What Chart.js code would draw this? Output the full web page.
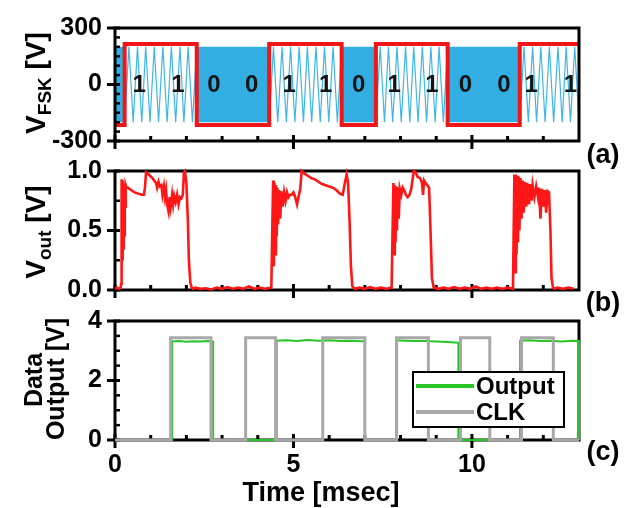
<!DOCTYPE html>
<html><head><meta charset="utf-8">
<script src="https://cdn.jsdelivr.net/npm/chart.js@4.4.1/dist/chart.umd.min.js"></script>
<style>
html,body{margin:0;padding:0;background:#fff;}
#wrap{position:relative;width:626px;height:508px;overflow:hidden;}
#wrap canvas{position:absolute;left:0;top:0;}
</style></head><body>
<div id="wrap">
<canvas id="ca" width="626" height="508"></canvas>
<canvas id="cb" width="626" height="508"></canvas>
<canvas id="cc" width="626" height="508"></canvas>
</div>
<script>
// ---------- data ----------
const xMajorTicks = [0, 5, 10];
const xMinorTicks = [1, 2, 3, 4, 6, 7, 8, 9, 11, 12];

// (a) FSK signal
const yTicksA = [-300, 0, 300];
const yMinorA = [-250, -200, -150, -100, -50, 50, 100, 150, 200, 250];
const bitEdgeT = [0, 0.27, 2.29, 4.32, 6.35, 7.31, 9.32, 11.34, 13];
const bitLevelV = [-215, 215, -215, 215, -215, 215, -215, 215, 215];
const bitLabels = ['1','1','0','0','1','1','0','1','1','0','0','1','1'];
const bitLabelT = [0.68, 1.76, 2.77, 3.83, 4.88, 5.90, 6.83, 7.82, 8.88, 9.82, 10.90, 11.66, 12.76];
const zeroStartT = [0, 2.29, 6.35, 9.32];
const zeroEndT = [0.27, 4.32, 7.31, 11.34];
const carrierAmp = [200, -200];
const fskLineT = [
  0.27,0.39,0.51,0.63,0.75,0.86,0.98,1.10,1.22,1.34,1.46,1.58,1.70,1.82,1.93,2.05,2.17,2.29, 3.3,
  4.32,4.44,4.56,4.68,4.80,4.92,5.04,5.16,5.28,5.39,5.51,5.63,5.75,5.87,5.99,6.11,6.23,6.35, 6.8,
  7.31,7.43,7.55,7.66,7.78,7.90,8.02,8.14,8.26,8.37,8.49,8.61,8.73,8.85,8.97,9.08,9.20,9.32, 10.3,
  11.34,11.46,11.58,11.70,11.81,11.93,12.05,12.17,12.29,12.41,12.53,12.64,12.76,12.88,13.00
];
const fskLineV = [
  -200,200,-200,200,-200,200,-200,200,-200,200,-200,200,-200,200,-200,200,-200,200, null,
  -200,200,-200,200,-200,200,-200,200,-200,200,-200,200,-200,200,-200,200,-200,200, null,
  -200,200,-200,200,-200,200,-200,200,-200,200,-200,200,-200,200,-200,200,-200,200, null,
  -200,200,-200,200,-200,200,-200,200,-200,200,-200,200,-200,200,-200
];

// (b) Vout
const yTicksB = [0, 0.5, 1.0];
const yMinorB = [0.25, 0.75];
const voutT = [
  0.00,0.06,0.12,0.16,
  0.17,0.18,0.19,0.20,0.21,0.22,0.23,0.24,0.25,0.26,0.27,0.28,0.29,0.30,0.32,0.36,0.45,0.55,0.65,0.75,0.81,
  0.84,0.87,0.92,0.98,1.05,1.12,1.15,1.18,1.22,1.26,1.30,1.33,1.37,1.40,1.43,1.46,1.50,1.53,1.56,1.60,1.63,1.66,1.70,1.74,1.78,1.82,1.86,1.90,1.93,1.96,2.00,2.04,2.07,2.11,2.15,2.19,
  2.25,2.40,2.55,2.70,2.85,3.00,3.15,3.30,3.45,3.60,3.75,3.90,4.05,4.20,4.38,
  4.43,4.45,4.47,4.49,4.51,4.53,4.55,4.57,4.60,4.63,4.66,4.70,4.74,4.78,4.82,4.86,4.90,4.95,5.00,5.05,5.10,5.14,5.19,5.23,5.30,5.40,5.50,5.60,5.70,5.80,5.90,6.00,6.10,6.20,6.30,6.38,6.44,6.49,6.53,6.57,6.61,6.65,
  6.72,6.85,7.00,7.15,7.30,7.45,7.60,7.75,
  7.80,7.82,7.84,7.86,7.88,7.90,7.92,7.95,7.98,8.02,8.06,8.10,8.15,8.20,8.25,8.30,8.37,8.42,8.48,8.55,8.60,8.63,8.66,8.70,8.75,8.80,8.84,8.88,8.93,
  9.05,9.20,9.35,9.50,9.65,9.80,9.95,10.10,10.25,10.40,10.55,10.70,10.85,11.00,11.15,
  11.19,11.21,11.23,11.25,11.27,11.29,11.31,11.33,11.36,11.39,11.42,11.45,11.48,11.52,11.55,11.60,11.63,11.67,11.70,11.75,11.80,11.85,11.88,11.92,11.96,12.00,12.04,12.08,12.12,12.16,12.20,12.23,12.27,12.31,
  12.40,12.55,12.70,12.85,13.00
];
const voutV = [
  0.01,0.02,0.01,0.02,
  0.05,0.93,0.10,0.90,0.25,0.92,0.35,0.88,0.50,0.90,0.45,0.87,0.70,0.88,0.86,0.86,0.84,0.82,0.81,0.80,0.80,
  0.86,0.99,0.98,0.96,0.94,0.91,0.90,0.86,0.91,0.87,0.88,0.80,0.87,0.78,0.84,0.72,0.66,0.78,0.70,0.80,0.72,0.79,0.74,0.80,0.72,0.78,0.77,0.80,0.99,1.00,0.90,0.60,0.25,0.06,0.02,0.01,
  0.02,0.01,0.015,0.005,0.02,0.01,0.025,0.01,0.02,0.01,0.03,0.01,0.02,0.01,0.02,
  0.92,0.20,0.90,0.30,0.88,0.45,0.86,0.55,0.84,0.60,0.83,0.70,0.82,0.75,0.82,0.78,0.80,0.80,0.82,0.78,0.72,0.78,0.85,1.00,0.98,0.96,0.94,0.93,0.91,0.89,0.88,0.87,0.86,0.84,0.81,0.80,0.90,0.97,0.90,0.60,0.20,0.03,
  0.01,0.02,0.01,0.025,0.01,0.02,0.01,0.02,
  0.90,0.30,0.88,0.40,0.87,0.50,0.86,0.60,0.85,0.80,0.86,0.84,0.80,0.78,0.80,0.85,1.00,0.99,0.95,0.94,0.90,0.80,0.92,0.90,0.88,0.86,0.50,0.10,0.02,
  0.01,0.02,0.01,0.025,0.01,0.02,0.01,0.03,0.01,0.02,0.01,0.02,0.01,0.02,0.01,
  0.97,0.15,0.97,0.30,0.96,0.40,0.95,0.50,0.94,0.60,0.92,0.65,0.91,0.70,0.90,0.72,0.89,0.75,0.88,0.78,0.87,0.78,0.86,0.60,0.85,0.70,0.84,0.65,0.83,0.82,0.50,0.10,0.02,
  0.01,0.02,0.01,0.02,0.01
];

// (c) Data output and clock
const yTicksC = [0, 2, 4];
const yMinorC = [0.5, 1, 1.5, 2.5, 3, 3.5];
const outT = [0,1.60,1.60,1.80,2.00,2.20,2.40,2.60,2.75,2.75,4.53,4.53,4.80,5.10,5.40,5.70,6.00,6.30,6.60,6.90,7.00,7.00,7.88,7.88,8.10,8.40,8.70,9.00,9.30,9.62,9.62,11.35,11.35,11.60,11.90,12.20,12.50,12.80,13.00,13.00];
const outV = [0,0,3.31,3.33,3.30,3.32,3.31,3.33,3.31,0,0,3.34,3.35,3.33,3.36,3.34,3.35,3.33,3.34,3.32,3.33,0,0,3.35,3.34,3.33,3.33,3.31,3.29,3.27,0,0,3.34,3.35,3.33,3.34,3.31,3.34,3.33,0];
const clkT = [0,1.56,1.56,2.69,2.69,3.66,3.66,4.50,4.50,5.82,5.82,7.00,7.00,7.89,7.89,8.78,8.78,9.68,9.68,10.50,10.50,11.39,11.39,12.28,12.28,13];
const clkV = [0,0,3.44,3.44,0,0,3.44,3.44,0,0,3.44,3.44,0,0,3.44,3.44,0,0,3.44,3.44,0,0,3.44,3.44,0,0];

// ---------- helpers ----------
const FONT = '"Liberation Sans", Arial, Helvetica, sans-serif';
const pts = (xs, ys) => xs.map((x, i) => ({x, y: ys[i]}));

const framePlugin = {
  id: 'frame',
  draw(chart, o) {
    const {ctx, chartArea: a, scales: {x, y}} = chart;
    ctx.save();
    ctx.strokeStyle = '#000';
    ctx.lineCap = 'butt';
    ctx.lineWidth = 3;
    ctx.strokeRect(a.left, a.top, a.right - a.left, a.bottom - a.top);
    const seg = (x1, y1, x2, y2, w) => { ctx.lineWidth = w; ctx.beginPath(); ctx.moveTo(x1, y1); ctx.lineTo(x2, y2); ctx.stroke(); };
    o.yMajor.forEach(v => { const p = y.getPixelForValue(v); seg(a.left - 8, p, a.left + 5, p, 3); });
    o.yMinor.forEach(v => { const p = y.getPixelForValue(v); seg(a.left, p, a.left + 5, p, 2.5); });
    xMajorTicks.forEach(v => { const p = x.getPixelForValue(v); seg(p, a.bottom + 8, p, a.bottom - 6, 3); });
    xMinorTicks.forEach(v => { const p = x.getPixelForValue(v); seg(p, a.bottom, p, a.bottom - 5, 3); });
    ctx.restore();
  },
  beforeDatasetsDraw(chart, args, o) { if (!o.after) this.draw(chart, o); },
  afterDatasetsDraw(chart, args, o) { if (o.after) this.draw(chart, o); }
};

function rotText(ctx, x, y, parts) {
  ctx.save();
  ctx.translate(x, y);
  ctx.rotate(-Math.PI / 2);
  ctx.textBaseline = 'alphabetic';
  ctx.textAlign = 'left';
  let total = 0;
  parts.forEach(p => { ctx.font = p.font; total += ctx.measureText(p.text).width; });
  let cx = -total / 2;
  parts.forEach(p => { ctx.font = p.font; ctx.fillText(p.text, cx, p.dy || 0); cx += ctx.measureText(p.text).width; });
  ctx.restore();
}

const textPlugin = {
  id: 'texts',
  afterDraw(chart, args, o) {
    const ctx = chart.ctx;
    ctx.save();
    ctx.fillStyle = '#000';
    if (o.draw) o.draw(ctx, chart);
    ctx.restore();
  }
};

const TICKFONT = {family: FONT, size: 25, weight: 'bold'};

function opts(padding, yMin, yMax, yTicks, yFmt, showX, xH, frameOpts, drawFn) {
  return {
    responsive: false, animation: false, events: [],
    layout: {padding},
    plugins: {legend: {display: false}, tooltip: {enabled: false},
      frame: frameOpts, texts: {draw: drawFn}},
    elements: {point: {radius: 0}, line: {tension: 0}},
    scales: {
      x: {type: 'linear', min: 0, max: 13,
        grid: {display: false, drawTicks: false}, border: {display: false},
        afterBuildTicks: s => { s.ticks = xMajorTicks.map(v => ({value: v})); },
        ticks: {display: showX, padding: 10, color: '#000', maxRotation: 0, autoSkip: false, font: TICKFONT},
        afterFit: s => { s.height = xH; }},
      y: {type: 'linear', min: yMin, max: yMax,
        grid: {display: false, drawTicks: false}, border: {display: false},
        afterBuildTicks: s => { s.ticks = yTicks.map(v => ({value: v})); },
        ticks: {padding: 13, color: '#000', font: TICKFONT, callback: yFmt},
        afterFit: s => { s.width = 105; }}
    }
  };
}

// ---------- (a) ----------
const dsA = [
  {data: pts(bitEdgeT, bitLevelV), stepped: 'before', borderColor: 'rgb(238,22,22)', borderWidth: 4, fill: false, clip: 4},
  {data: pts(fskLineT, fskLineV), borderColor: 'rgb(62,182,232)', borderWidth: 1.2, fill: false, spanGaps: false}
];
zeroStartT.forEach((s, i) => {
  dsA.push({data: [{x: s, y: carrierAmp[0]}, {x: zeroEndT[i], y: carrierAmp[0]}],
    borderWidth: 0, borderColor: 'rgba(0,0,0,0)', backgroundColor: 'rgb(50,174,227)', fill: {value: carrierAmp[1]}});
});
new Chart(document.getElementById('ca'), {
  type: 'line',
  data: {datasets: dsA},
  options: opts({left: 10, right: 47, top: 20, bottom: 508 - 141 - 10}, -300, 300, yTicksA, v => String(v), false, 10,
    {yMajor: yTicksA, yMinor: yMinorA, after: true},
    (ctx, chart) => {
      const {x, y} = chart.scales;
      ctx.font = 'bold 24px ' + FONT;
      ctx.textAlign = 'center'; ctx.textBaseline = 'middle';
      ctx.fillStyle = '#141414';
      bitLabels.forEach((b, i) => ctx.fillText(b, x.getPixelForValue(bitLabelT[i]), y.getPixelForValue(0) + 1));
      ctx.fillStyle = '#000';
      rotText(ctx, 45, 83, [
        {text: 'V', font: 'bold 28px ' + FONT},
        {text: 'FSK', font: 'bold 19px ' + FONT, dy: 6},
        {text: ' [V]', font: 'bold 28px ' + FONT}]);
      ctx.font = 'bold 27px ' + FONT; ctx.textAlign = 'center'; ctx.textBaseline = 'middle';
      ctx.fillText('(a)', 603, 156);
    }),
  plugins: [framePlugin, textPlugin]
});

// ---------- (b) ----------
new Chart(document.getElementById('cb'), {
  type: 'line',
  data: {datasets: [
    {data: pts(voutT, voutV), borderColor: 'rgb(255,22,22)', borderWidth: 2.6, fill: false, clip: 3}
  ]},
  options: opts({left: 10, right: 47, top: 171, bottom: 508 - 290 - 10}, 0, 1, yTicksB, v => v.toFixed(1), false, 10,
    {yMajor: yTicksB, yMinor: yMinorB, after: false},
    (ctx) => {
      rotText(ctx, 45, 232, [
        {text: 'V', font: 'bold 28px ' + FONT},
        {text: 'out', font: 'bold 19px ' + FONT, dy: 6},
        {text: ' [V]', font: 'bold 28px ' + FONT}]);
      ctx.font = 'bold 27px ' + FONT; ctx.textAlign = 'center'; ctx.textBaseline = 'middle';
      ctx.fillText('(b)', 603, 304);
    }),
  plugins: [framePlugin, textPlugin]
});

// ---------- (c) ----------
new Chart(document.getElementById('cc'), {
  type: 'line',
  data: {datasets: [
    {label: 'Output', data: pts(outT, outV), borderColor: 'rgb(40,196,40)', borderWidth: 2, fill: false, clip: 4, order: 1},
    {label: 'CLK', data: pts(clkT, clkV), borderColor: 'rgb(168,168,168)', borderWidth: 3, fill: false, clip: 4, order: 0}
  ]},
  options: opts({left: 10, right: 47, top: 321, bottom: 508 - 440 - 40}, 0, 4, yTicksC, v => String(v), true, 40,
    {yMajor: yTicksC, yMinor: yMinorC, after: false},
    (ctx, chart) => {
      rotText(ctx, 42, 380, [{text: 'Data', font: 'bold 25px ' + FONT}]);
      rotText(ctx, 64, 379, [{text: 'Output [V]', font: 'bold 25px ' + FONT}]);
      ctx.font = 'bold 27px ' + FONT; ctx.textAlign = 'center'; ctx.textBaseline = 'middle';
      ctx.fillText('Time [msec]', 321, 494);
      ctx.font = 'bold 27px ' + FONT;
      ctx.fillText('(c)', 603, 453);
      // legend
      const lx = 413, ly = 372, lw = 151, lh = 55;
      ctx.fillStyle = '#fff'; ctx.fillRect(lx, ly, lw, lh);
      ctx.strokeStyle = '#000'; ctx.lineWidth = 2; ctx.strokeRect(lx, ly, lw, lh);
      const ds = chart.data.datasets;
      ds.forEach((d, i) => {
        const yy = ly + 14 + i * 26;
        ctx.strokeStyle = d.borderColor; ctx.lineWidth = 4;
        ctx.beginPath(); ctx.moveTo(lx + 3, yy); ctx.lineTo(lx + 61, yy); ctx.stroke();
        ctx.fillStyle = '#000'; ctx.font = 'bold 24px ' + FONT;
        ctx.textAlign = 'left'; ctx.textBaseline = 'middle';
        ctx.fillText(d.label, lx + 63, yy + 1);
      });
    }),
  plugins: [framePlugin, textPlugin]
});
</script>
</body></html>
